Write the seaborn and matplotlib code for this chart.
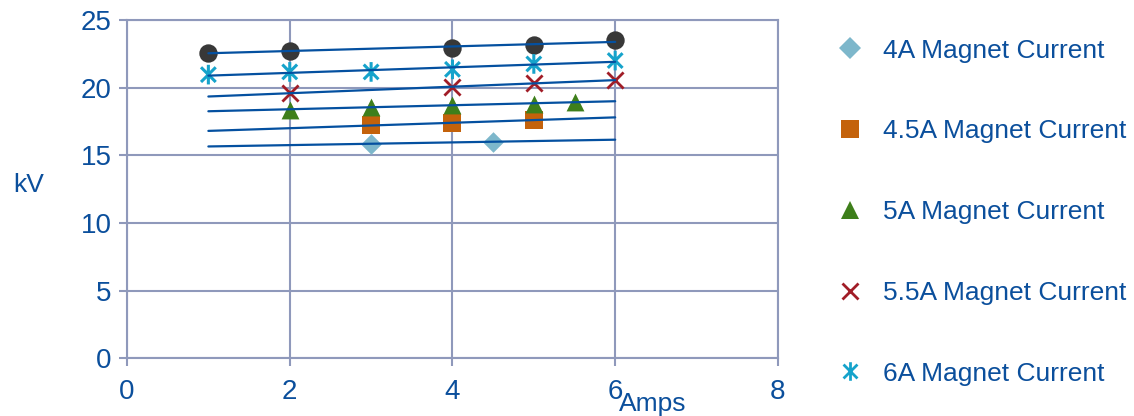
import numpy as np
import pandas as pd
import matplotlib
matplotlib.use("Agg")
import matplotlib.pyplot as plt
from matplotlib.path import Path
from matplotlib.lines import Line2D
import seaborn as sns

# ---- data -------------------------------------------------------------
series_names = ["4A Magnet Current", "4.5A Magnet Current", "5A Magnet Current",
                "5.5A Magnet Current", "6A Magnet Current"]

amps_4a = [3, 4.5]
kv_4a = [15.85, 16.0]

amps_45a = [3, 4, 5]
kv_45a = [17.2, 17.4, 17.6]

amps_5a = [2, 3, 4, 5, 5.5]
kv_5a = [18.37, 18.58, 18.74, 18.77, 18.95]

amps_55a = [2, 4, 5, 6]
kv_55a = [19.6, 20.02, 20.35, 20.55]

amps_6a = [1, 2, 3, 4, 5, 6]
kv_6a = [20.96, 21.16, 21.16, 21.35, 21.75, 22.0]

# unlabelled series (dark circles)
extra_amps = [1, 2, 4, 5, 6]
extra_kv = [22.57, 22.74, 22.94, 23.13, 23.5]

x_ticks = [0, 2, 4, 6, 8]
y_ticks = [0, 5, 10, 15, 20, 25]
trend_range = [1, 6]

# ---- style ------------------------------------------------------------
sns.set_theme(style="white")
plt.rcParams["font.family"] = ["Liberation Sans", "DejaVu Sans"]

TEXT = "#0b4f9c"
GRID = "#8f99bb"
TREND = "#0450a0"

asterisk = Path([(0, -1), (0, 1), (-0.75, -0.75), (0.75, 0.75), (-0.75, 0.75), (0.75, -0.75)],
                [Path.MOVETO, Path.LINETO] * 3)

styles = [
    dict(marker="D", color="#7db7cb", s=110, filled=True),
    dict(marker="s", color="#c4620b", s=155, filled=True),
    dict(marker="^", color="#3e7f1b", s=165, filled=True),
    dict(marker="x", color="#a11d27", s=135, filled=False),
    dict(marker=asterisk, color="#16a3cb", s=200, filled=False),
]
extra_style = dict(marker="o", color="#383838", s=175, filled=True)

fig = plt.figure(figsize=(11.34, 4.16), dpi=100)
ax = fig.add_axes([0.112, 0.139, 0.574, 0.813])

all_series = [(amps_4a, kv_4a), (amps_45a, kv_45a), (amps_5a, kv_5a),
              (amps_55a, kv_55a), (amps_6a, kv_6a)]


def draw_points(xs, ys, st):
    df = pd.DataFrame({"Amps": xs, "kV": ys})
    if st["marker"] == "x":
        sns.scatterplot(data=df, x="Amps", y="kV", ax=ax, marker="x", color=st["color"],
                        s=st["s"], linewidth=2.0, zorder=3, legend=False)
    elif not st["filled"]:
        sns.scatterplot(data=df, x="Amps", y="kV", ax=ax, marker=st["marker"], color=st["color"],
                        facecolor="none", edgecolor=st["color"], s=st["s"], linewidth=2.2,
                        zorder=3, legend=False)
    else:
        sns.scatterplot(data=df, x="Amps", y="kV", ax=ax, marker=st["marker"], color=st["color"],
                        edgecolor=st["color"], s=st["s"], linewidth=0, zorder=3, legend=False)


def draw_trend(xs, ys):
    slope, intercept = np.polyfit(xs, ys, 1)
    tx = np.array(trend_range, dtype=float)
    tdf = pd.DataFrame({"Amps": tx, "kV": slope * tx + intercept})
    sns.lineplot(data=tdf, x="Amps", y="kV", ax=ax, color=TREND, linewidth=1.6,
                 zorder=4, legend=False)


draw_points(extra_amps, extra_kv, extra_style)
for (xs, ys), st in zip(all_series, styles):
    draw_points(xs, ys, st)

draw_trend(extra_amps, extra_kv)
for xs, ys in all_series:
    draw_trend(xs, ys)

# ---- axes -------------------------------------------------------------
ax.set_xlim(0, 8)
ax.set_ylim(0, 25)
ax.set_xticks(x_ticks)
ax.set_yticks(y_ticks)
ax.grid(True, color=GRID, linewidth=1.5, zorder=0)
ax.set_axisbelow(True)
for sp in ax.spines.values():
    sp.set_color(GRID)
    sp.set_linewidth(1.5)
ax.tick_params(axis="both", direction="out", length=6, width=1.5, color=GRID,
               labelcolor=TEXT, labelsize=20, left=True, bottom=True)
ax.tick_params(axis="y", pad=5)
ax.tick_params(axis="x", pad=9)
ax.set_xlabel("")
ax.set_ylabel("")

fig.text(0.012, 0.555, "kV", color=TEXT, fontsize=19, ha="left", va="center")
fig.text(0.546, 0.030, "Amps", color=TEXT, fontsize=19, ha="left", va="center")

# ---- legend -----------------------------------------------------------
handles = []
for name, st in zip(series_names, styles):
    ms = np.sqrt(st["s"]) * 1.05
    if st["filled"]:
        h = Line2D([], [], linestyle="none", marker=st["marker"], markersize=ms,
                   markerfacecolor=st["color"], markeredgecolor=st["color"], markeredgewidth=0)
    else:
        h = Line2D([], [], linestyle="none", marker=st["marker"], markersize=ms * 0.9,
                   markerfacecolor="none", markeredgecolor=st["color"], markeredgewidth=2.0)
    handles.append(h)

leg = fig.legend(handles, series_names, loc="upper left", bbox_to_anchor=(0.740, 0.907),
                 frameon=False, fontsize=19, labelcolor=TEXT, handlelength=0.8,
                 handletextpad=0.85, labelspacing=2.15, borderpad=0, borderaxespad=0)

fig.savefig("out.png", dpi=100)
